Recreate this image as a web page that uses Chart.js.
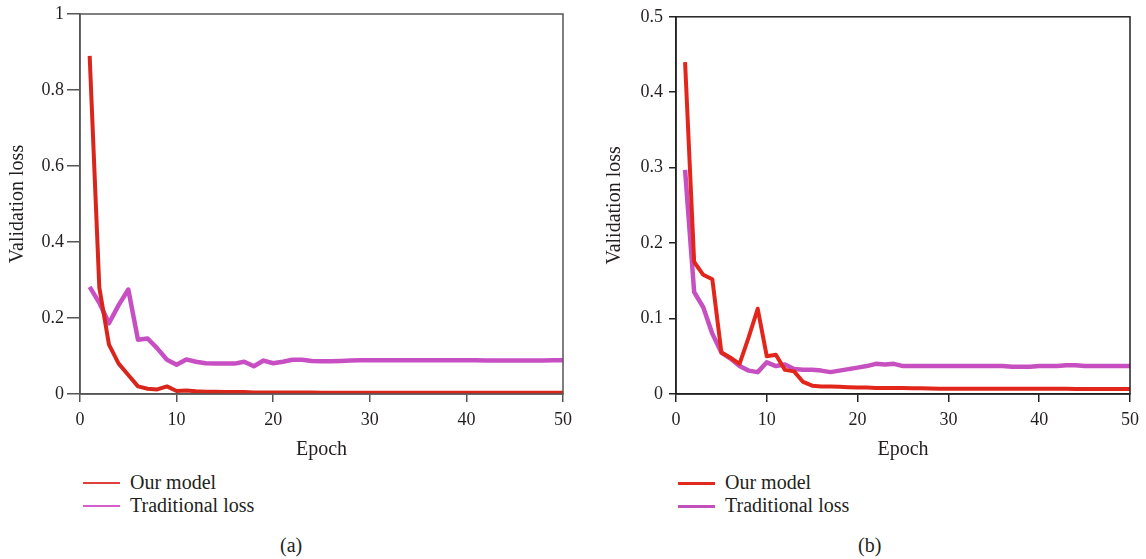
<!DOCTYPE html>
<html>
<head>
<meta charset="utf-8">
<script src="https://cdn.jsdelivr.net/npm/chart.js@4/dist/chart.umd.min.js"></script>
<style>
  body { margin: 0; background: #fff; width: 1146px; height: 559px; position: relative; overflow: hidden; font-family: "Liberation Serif", "DejaVu Serif", serif; color: #231f20; }
  canvas { position: absolute; top: 0; }
  #chartA { left: 0; }
  #chartB { left: 597px; }
  .legend { position: absolute; font-size: 20px; line-height: 23px; }
  .legend div.row { position: relative; height: 23px; white-space: nowrap; }
  .legend .ln { position: absolute; left: 0; width: 37px; }
  .legend .tx { position: absolute; top: 0; left: 47px; }
  .caption { position: absolute; top: 534px; font-size: 20px; }
</style>
</head>
<body>
<canvas id="chartA" width="580" height="470"></canvas>
<canvas id="chartB" width="549" height="470"></canvas>

<div class="legend" id="legendA" style="left:83px; top:471px;"></div>
<div class="legend" id="legendB" style="left:678px; top:471px;"></div>
<div class="caption" style="left:280px;">(a)</div>
<div class="caption" style="left:858px;">(b)</div>

<script>
// epochs 1..50
var epochs = [1,2,3,4,5,6,7,8,9,10,11,12,13,14,15,16,17,18,19,20,
              21,22,23,24,25,26,27,28,29,30,31,32,33,34,35,36,37,38,39,40,
              41,42,43,44,45,46,47,48,49,50];

// (a) validation loss
var ourModelA = [0.89,0.28,0.13,0.08,0.05,0.02,0.014,0.012,0.02,0.008,
                 0.009,0.007,0.006,0.006,0.005,0.005,0.005,0.004,0.004,0.004,
                 0.004,0.004,0.004,0.004,0.003,0.003,0.003,0.003,0.003,0.003,
                 0.003,0.003,0.003,0.003,0.003,0.003,0.003,0.003,0.003,0.003,
                 0.003,0.003,0.003,0.003,0.003,0.003,0.003,0.003,0.003,0.003];
var tradLossA = [0.282,0.24,0.186,0.234,0.275,0.143,0.146,0.12,0.09,0.077,
                 0.091,0.085,0.081,0.08,0.08,0.08,0.085,0.073,0.088,0.081,
                 0.085,0.09,0.09,0.087,0.086,0.086,0.087,0.088,0.089,0.089,
                 0.089,0.089,0.089,0.089,0.089,0.089,0.089,0.089,0.089,0.089,
                 0.089,0.088,0.088,0.088,0.088,0.088,0.088,0.088,0.089,0.089];

// (b) validation loss
var ourModelB = [0.44,0.175,0.158,0.152,0.055,0.048,0.04,0.075,0.113,0.05,
                 0.052,0.032,0.03,0.016,0.011,0.01,0.0098,0.0095,0.009,0.0085,
                 0.0085,0.008,0.008,0.008,0.0078,0.0075,0.0075,0.0072,0.007,0.007,
                 0.007,0.007,0.007,0.007,0.007,0.007,0.0068,0.0068,0.0068,0.0068,
                 0.0068,0.0068,0.0068,0.0066,0.0065,0.0065,0.0065,0.0066,0.0066,0.0066];
var tradLossB = [0.297,0.135,0.115,0.08,0.055,0.047,0.037,0.031,0.029,0.042,
                 0.037,0.039,0.033,0.032,0.032,0.031,0.029,0.031,0.033,0.035,
                 0.037,0.04,0.039,0.04,0.037,0.037,0.037,0.037,0.037,0.037,
                 0.037,0.037,0.037,0.037,0.037,0.037,0.036,0.036,0.036,0.037,
                 0.037,0.037,0.038,0.038,0.037,0.037,0.037,0.037,0.037,0.037];

var yTicksA = ['0', '0.2', '0.4', '0.6', '0.8', '1'];
var yTicksB = ['0', '0.1', '0.2', '0.3', '0.4', '0.5'];
var xTicks = ['0', '10', '20', '30', '40', '50'];

var seriesNames = ['Our model', 'Traditional loss'];

function pts(vals) {
  return epochs.map(function (e, i) { return {x: e, y: vals[i]}; });
}

// box round the plot area (top and right edges)
var frame = {
  id: 'frame',
  afterDraw: function (chart, args, opts) {
    var a = chart.chartArea, ctx = chart.ctx;
    ctx.save();
    ctx.strokeStyle = opts.color;
    ctx.lineWidth = 1.5;
    ctx.strokeRect(a.left, a.top, a.right - a.left, a.bottom - a.top);
    ctx.restore();
  }
};

function tickList(labels) {
  return function (s) {
    s.ticks = labels.map(function (t) { return {value: parseFloat(t), label: t}; });
  };
}

function makeChart(id, s1, s2, yMax, yTicks, cfg) {
  var serif = "'Liberation Serif', 'DejaVu Serif', serif";
  return new Chart(document.getElementById(id), {
    type: 'line',
    data: {
      datasets: [
        {label: seriesNames[0], data: pts(s1), borderColor: cfg.red, borderWidth: 4, pointRadius: 0, tension: 0, borderJoinStyle: 'round'},
        {label: seriesNames[1], data: pts(s2), borderColor: cfg.pink, borderWidth: 4.5, pointRadius: 0, tension: 0, borderJoinStyle: 'round'}
      ]
    },
    options: {
      responsive: false,
      animation: false,
      events: [],
      layout: {padding: {left: 0, right: cfg.padRight, top: 14, bottom: 0}},
      plugins: {
        legend: {display: false},
        tooltip: {enabled: false},
        frame: {color: cfg.axis}
      },
      scales: {
        x: {
          type: 'linear', min: 0, max: 50,
          afterBuildTicks: tickList(xTicks),
          afterFit: function (s) { s.height = 76; },
          border: {display: true, color: cfg.axis, width: 1.5},
          grid: {display: true, drawOnChartArea: false, drawTicks: true, tickLength: 8, color: cfg.axis, lineWidth: 1.5},
          ticks: {color: '#231f20', padding: 7, maxRotation: 0, font: {family: serif, size: 18},
                  callback: function (v) { return xTicks[xTicks.indexOf(String(v))] || String(v); }},
          title: {display: true, text: 'Epoch', color: '#231f20', padding: {top: 0, bottom: 8}, font: {family: serif, size: 20}}
        },
        y: {
          min: 0, max: yMax,
          afterBuildTicks: tickList(yTicks),
          afterFit: function (s) { s.width = cfg.yWidth; },
          border: {display: true, color: cfg.axis, width: 1.5},
          grid: {display: true, drawOnChartArea: false, drawTicks: true, tickLength: cfg.yTick, color: cfg.axis, lineWidth: 1.5},
          ticks: {color: '#231f20', padding: cfg.yPad, font: {family: serif, size: 18},
                  callback: function (v) { return String(Math.round(v * 10) / 10); }},
          title: {display: true, text: 'Validation loss', color: '#231f20', padding: {top: 6, bottom: 0}, font: {family: serif, size: 20}}
        }
      }
    },
    plugins: [frame]
  });
}

makeChart('chartA', ourModelA, tradLossA, 1, yTicksA,
  {red: '#d9261c', pink: '#c84fc3', axis: '#555555', padRight: 17, yWidth: 80, yTick: 13, yPad: 3});
makeChart('chartB', ourModelB, tradLossB, 0.5, yTicksB,
  {red: '#e2261b', pink: '#c650bf', axis: '#222222', padRight: 13, yWidth: 79, yTick: 7, yPad: 6});

// legends under each plot
function legend(id, colors, width) {
  var el = document.getElementById(id);
  seriesNames.forEach(function (name, i) {
    var row = document.createElement('div');
    row.className = 'row';
    var ln = document.createElement('div');
    ln.className = 'ln';
    ln.style.height = width + 'px';
    ln.style.top = (12 - width / 2) + 'px';
    ln.style.background = colors[i];
    var tx = document.createElement('span');
    tx.className = 'tx';
    tx.textContent = name;
    row.appendChild(ln);
    row.appendChild(tx);
    el.appendChild(row);
  });
}
legend('legendA', ['#e0403a', '#d65fd0'], 2);
legend('legendB', ['#e02a20', '#c351bb'], 3);
</script>
</body>
</html>
